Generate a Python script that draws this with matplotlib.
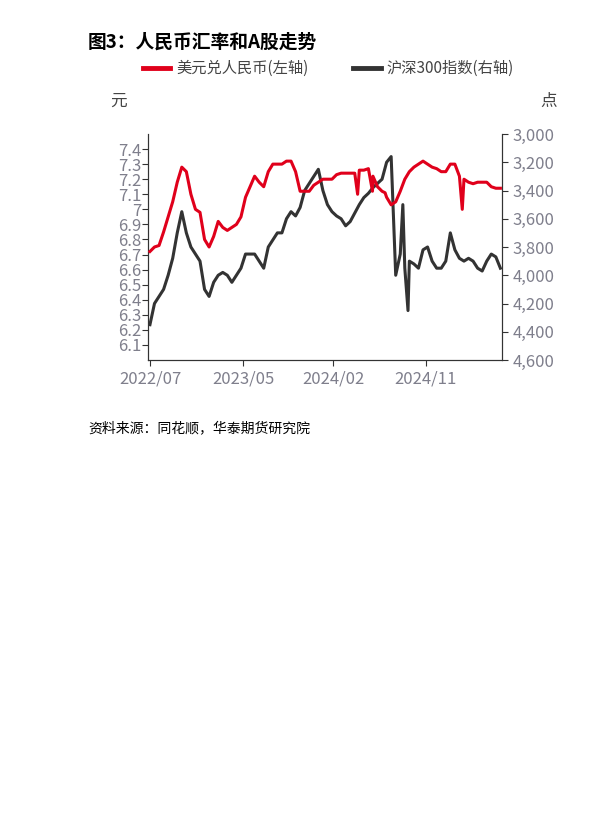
import numpy as np
import pandas as pd
import matplotlib
matplotlib.use("Agg")
import matplotlib.pyplot as plt

plt.rcParams['font.family'] = ['Noto Sans CJK SC', 'DejaVu Sans']

# 78 evenly spaced observations, 2022-07 .. 2025-06
dates = pd.to_datetime(np.linspace(pd.Timestamp("2022-07-01").value,
                                   pd.Timestamp("2025-06-20").value, 78))
usdcny = [6.72, 6.75, 6.76, 6.85, 6.95, 7.05, 7.18, 7.28, 7.25, 7.10,
          7.00, 6.98, 6.80, 6.75, 6.82, 6.92, 6.88, 6.86, 6.88, 6.90,
          6.95, 7.08, 7.15, 7.22, 7.18, 7.15, 7.25, 7.30, 7.30, 7.30,
          7.32, 7.32, 7.25, 7.12, 7.12, 7.12, 7.16, 7.18, 7.20, 7.20,
          7.20, 7.23, 7.24, 7.24, 7.24, 7.24, 7.26, 7.26, 7.27, 7.22,
          7.15, 7.12, 7.08, 7.03, 7.05, 7.12, 7.20, 7.25, 7.28, 7.30,
          7.32, 7.30, 7.28, 7.27, 7.25, 7.25, 7.30, 7.30, 7.22, 7.20,
          7.18, 7.17, 7.18, 7.18, 7.18, 7.15, 7.14, 7.14]
csi300 = [4350, 4200, 4150, 4100, 4000, 3880, 3700, 3550, 3700, 3800,
          3850, 3900, 4100, 4150, 4050, 4000, 3980, 4000, 4050, 4000,
          3950, 3850, 3850, 3850, 3900, 3950, 3800, 3750, 3700, 3700,
          3600, 3550, 3580, 3520, 3400, 3350, 3300, 3250, 3400, 3500,
          3550, 3580, 3600, 3650, 3620, 3560, 3500, 3450, 3420, 3380,
          3350, 3320, 3200, 3160, 4000, 3850, 3950, 3900, 3920, 3950,
          3820, 3800, 3900, 3950, 3950, 3900, 3700, 3820, 3880, 3900,
          3880, 3900, 3950, 3970, 3900, 3850, 3870, 3950]

# short-lived spikes
red_spike_dates = pd.to_datetime(["2024-04-04", "2024-05-20", "2024-06-28", "2025-02-22"])
red_spike_vals = [7.10, 7.12, 7.11, 7.00]
blk_spike_dates = pd.to_datetime(["2024-08-22", "2024-09-07"])
blk_spike_vals = [3500, 4250]

red = pd.Series(usdcny, index=dates)
red = pd.concat([red, pd.Series(red_spike_vals, index=red_spike_dates)]).sort_index()
blk = pd.Series(csi300, index=dates)
blk = pd.concat([blk, pd.Series(blk_spike_vals, index=blk_spike_dates)]).sort_index()

grey = "#7f7f8c"
fig = plt.figure(figsize=(5.99, 8.23), dpi=100)
ax = fig.add_axes([148/599, 1-360/823, (502-148)/599, (360-134)/823])
ax2 = ax.twinx()

ax.plot(red.index, red.values, color="#e0001b", lw=2.2, zorder=3)
ax2.plot(blk.index, blk.values, color="#333333", lw=2.2)
ax.set_zorder(ax2.get_zorder() + 1)
ax.patch.set_visible(False)

ax.set_ylim(6.0, 7.5)
ax.set_yticks(np.arange(6.1, 7.41, 0.1))
ax.set_yticklabels(["6.1", "6.2", "6.3", "6.4", "6.5", "6.6", "6.7", "6.8", "6.9", "7",
                    "7.1", "7.2", "7.3", "7.4"])
ax2.set_ylim(4600, 3000)
ax2.set_yticks(range(3000, 4601, 200))
ax2.set_yticklabels([f"{v:,}" for v in range(3000, 4601, 200)])

ax.set_xlim(pd.Timestamp("2022-06-25"), pd.Timestamp("2025-06-25"))
xt = pd.to_datetime(["2022-07-01", "2023-04-15", "2024-01-20", "2024-11-01"])
ax.set_xticks(xt)
ax.set_xticklabels(["2022/07", "2023/05", "2024/02", "2024/11"])

for a in (ax, ax2):
    a.spines["top"].set_visible(False)
    for s in a.spines.values():
        s.set_color("#333333")
    a.tick_params(colors=grey, labelsize=12, length=4)
    a.tick_params(axis="both", color="#333333")
ax.tick_params(axis="y", pad=1)

fig.text(88/599, 1-42/823, "图3：人民币汇率和A股走势", fontsize=13.5, fontweight="bold", va="center")
fig.text(110/599, 1-101/823, "元", fontsize=12, color="#444444", va="center")
fig.text(540/599, 1-101/823, "点", fontsize=12, color="#444444", va="center")
fig.text(88/599, 1-428/823, "资料来源：同花顺，华泰期货研究院", fontsize=10, style="italic", va="center")

fig.lines.append(plt.Line2D([143/599, 170/599], [1-68/823]*2, color="#e0001b", lw=3.5, transform=fig.transFigure))
fig.text(176/599, 1-68/823, "美元兑人民币(左轴)", fontsize=11, color="#444444", va="center")
fig.lines.append(plt.Line2D([353/599, 381/599], [1-68/823]*2, color="#333333", lw=3.5, transform=fig.transFigure))
fig.text(386/599, 1-68/823, "沪深300指数(右轴)", fontsize=11, color="#444444", va="center")

fig.savefig("out.png", dpi=100)
